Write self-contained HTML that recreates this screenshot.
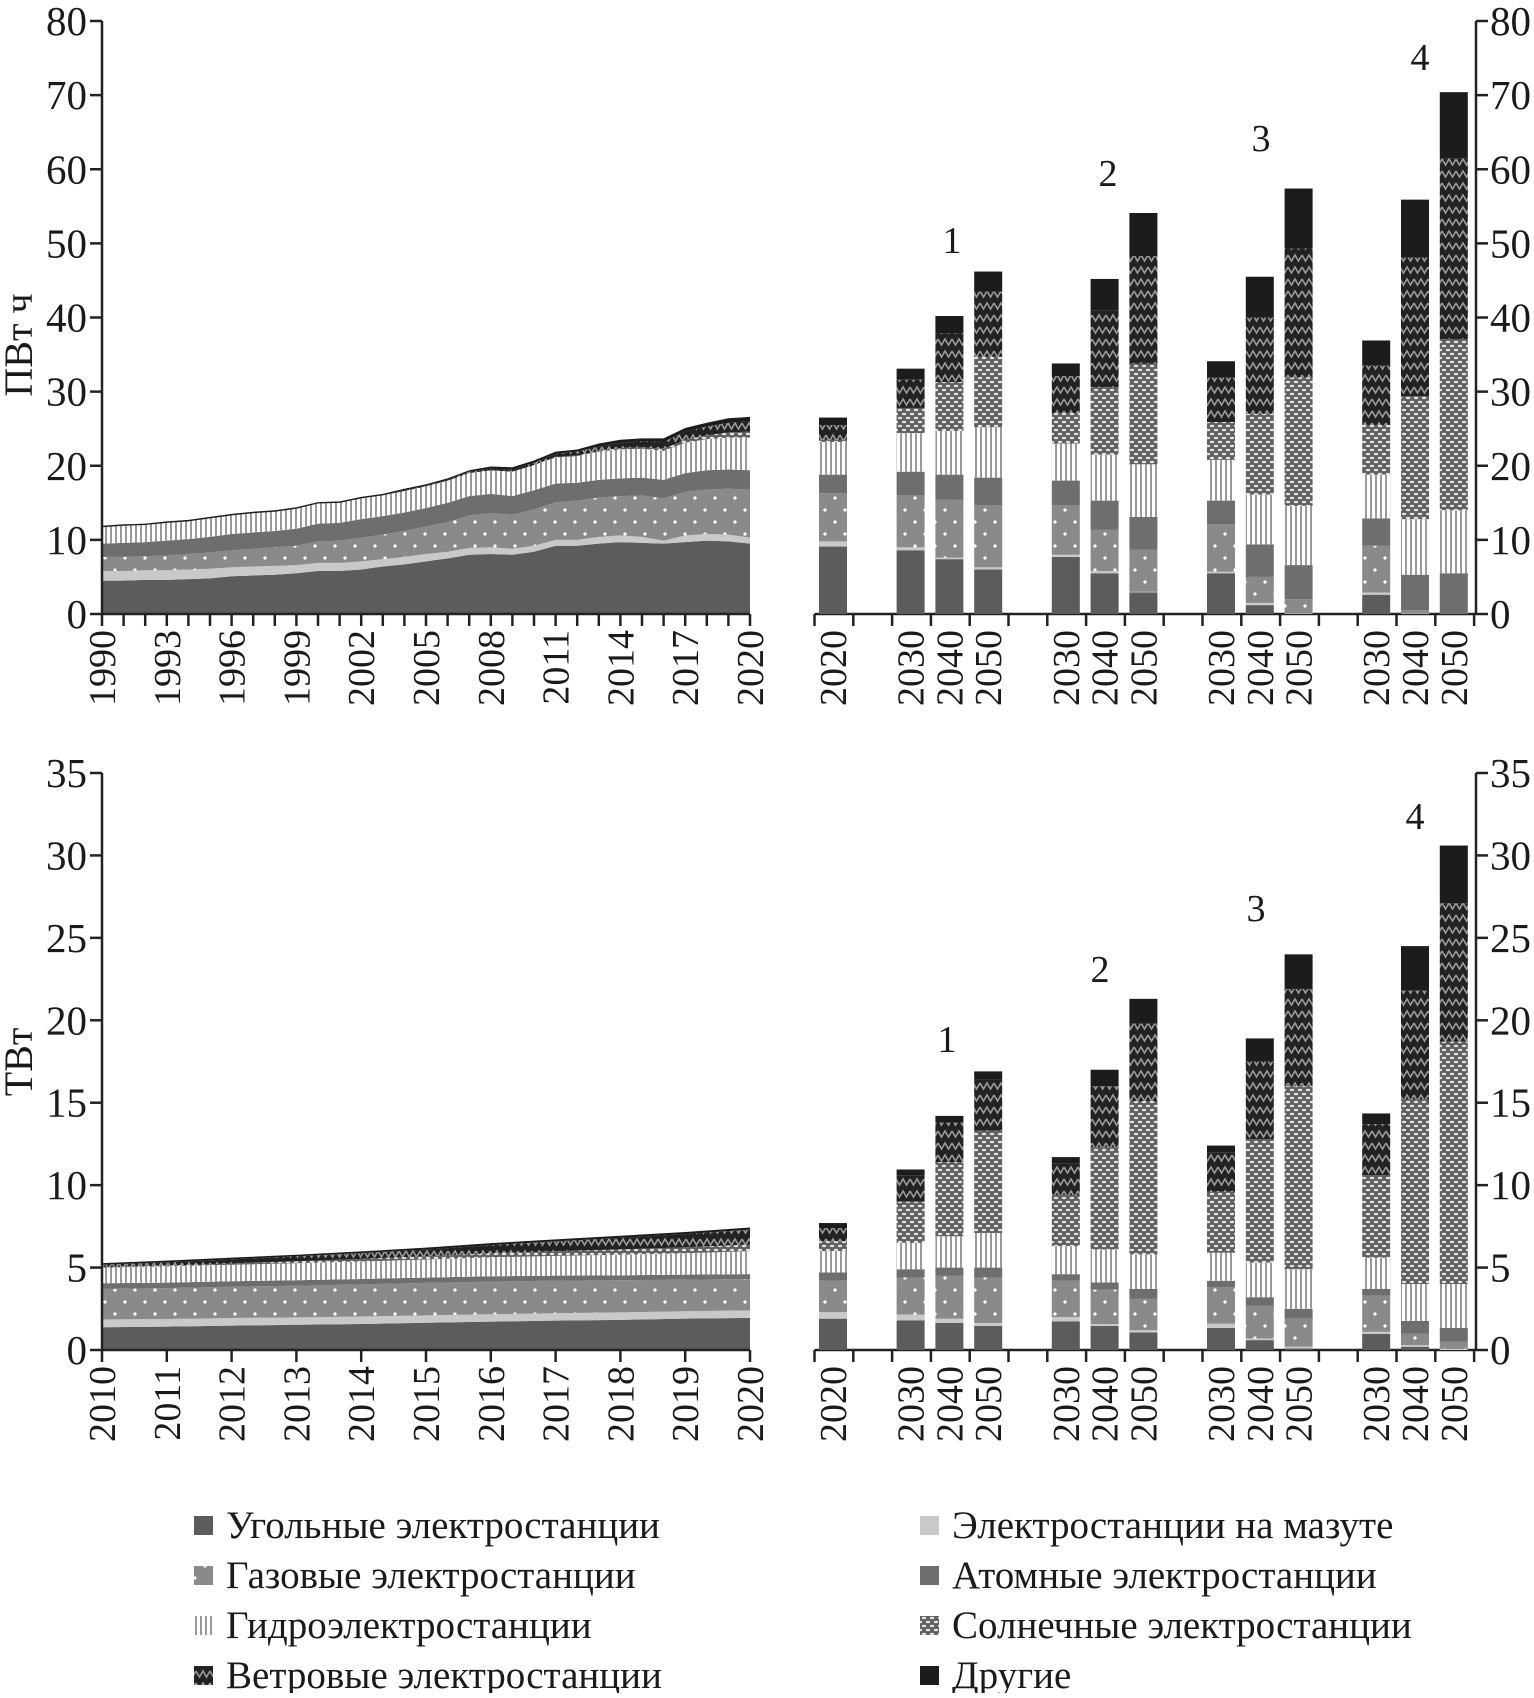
<!DOCTYPE html>
<html><head><meta charset="utf-8">
<style>
body{margin:0;background:#fff;}
svg text{font-family:"Liberation Serif","DejaVu Serif",serif;fill:#1a1a1a;}
</style></head>
<body>
<svg id="chart" width="1534" height="1693" viewBox="0 0 1534 1693" xmlns="http://www.w3.org/2000/svg">
<defs>
<pattern id="pGas" width="20" height="24" patternUnits="userSpaceOnUse"><rect width="20" height="24" fill="#8a8a8a"/><circle cx="5" cy="6" r="1.6" fill="#fff"/><circle cx="15" cy="18" r="1.6" fill="#fff"/></pattern>
<pattern id="pHydro" width="5" height="10" patternUnits="userSpaceOnUse"><rect width="5" height="10" fill="#fff"/><rect x="0" width="2" height="10" fill="#9a9a9a"/></pattern>
<pattern id="pSolar" width="8" height="8" patternUnits="userSpaceOnUse"><rect width="8" height="8" fill="#5e5e5e"/><ellipse cx="4" cy="2" rx="2.3" ry="1.2" fill="#e0e0e0"/><ellipse cx="0" cy="6" rx="2.3" ry="1.2" fill="#e0e0e0"/><ellipse cx="8" cy="6" rx="2.3" ry="1.2" fill="#e0e0e0"/></pattern>
<pattern id="pWind" width="14" height="12" patternUnits="userSpaceOnUse"><rect width="14" height="12" fill="#222"/><path d="M0 3 L3.5 9 L7 3 L10.5 9 L14 3" stroke="#9a9a9a" stroke-width="1.6" fill="none"/></pattern>
</defs>
<g id="top"></g><g id="bottom"></g><g id="legend"></g>
</svg>
<script>
const NS="http://www.w3.org/2000/svg";
const svg=document.getElementById('chart');
const sources=["coal","oil","gas","nuclear","hydro","solar","wind","other"];
const fills=["#5c5c5c","#c9c9c9","url(#pGas)","#6e6e6e","url(#pHydro)","url(#pSolar)","url(#pWind)","#1c1c1c"];
// ---- Top chart: historical generation (PWh), 1990..2020
const topYears=[1990,1991,1992,1993,1994,1995,1996,1997,1998,1999,2000,2001,2002,2003,2004,2005,2006,2007,2008,2009,2010,2011,2012,2013,2014,2015,2016,2017,2018,2019,2020];
const topCoal=[4.5,4.5,4.6,4.6,4.7,4.8,5.1,5.2,5.3,5.5,5.8,5.8,6.0,6.4,6.7,7.1,7.5,8.0,8.1,8.0,8.4,9.2,9.2,9.5,9.7,9.6,9.5,9.7,9.9,9.8,9.5];
const topOil=[1.3,1.3,1.3,1.3,1.3,1.3,1.2,1.2,1.2,1.1,1.1,1.1,1.1,1.0,1.0,1.0,0.9,0.9,0.9,0.8,0.8,0.8,0.8,0.9,0.9,0.8,0.4,0.9,0.9,0.9,0.8];
const topGas=[1.9,1.9,1.9,2.0,2.1,2.2,2.3,2.4,2.5,2.6,2.9,3.0,3.2,3.3,3.5,3.7,4.0,4.4,4.6,4.6,4.9,5.1,5.3,5.3,5.3,5.6,5.7,5.9,6.0,6.2,6.5];
const topNuclear=[1.8,1.9,1.9,2.0,2.0,2.1,2.2,2.2,2.2,2.3,2.4,2.4,2.5,2.5,2.5,2.5,2.6,2.6,2.6,2.5,2.6,2.5,2.4,2.4,2.4,2.4,2.5,2.5,2.6,2.6,2.6];
const topHydro=[2.2,2.3,2.3,2.4,2.4,2.5,2.5,2.6,2.6,2.7,2.7,2.7,2.8,2.8,2.9,2.9,3.0,3.1,3.2,3.3,3.4,3.5,3.6,3.8,3.9,3.9,3.9,4.1,4.2,4.3,4.4];
const topSolar=[0,0,0,0,0,0,0,0,0,0,0,0,0,0,0,0,0,0,0,0,0,0.1,0.1,0.1,0.2,0.2,0.3,0.4,0.5,0.7,0.8];
const topWind=[0,0,0,0,0,0,0,0,0,0,0,0,0,0,0.1,0.1,0.1,0.2,0.2,0.3,0.3,0.4,0.5,0.6,0.7,0.8,0.9,1.1,1.2,1.3,1.4];
const topOther=[0.2,0.2,0.2,0.2,0.2,0.2,0.2,0.2,0.2,0.2,0.2,0.2,0.2,0.2,0.2,0.2,0.2,0.2,0.3,0.3,0.3,0.3,0.3,0.4,0.4,0.4,0.5,0.5,0.5,0.6,0.6];
const topTicks=[0,10,20,30,40,50,60,70,80];
// bars: 2020 + 4 scenarios x (2030,2040,2050)
const barLabels=["2020","2030","2040","2050","2030","2040","2050","2030","2040","2050","2030","2040","2050"];
const barSlots=[0,2,3,4,6,7,8,10,11,12,14,15,16];
const topBarCoal=[9.1,8.6,7.4,6.0,7.7,5.5,2.9,5.5,1.2,0,2.6,0,0];
const topBarOil=[0.7,0.4,0.2,0.3,0.3,0.3,0.1,0.2,0.3,0.1,0.3,0.1,0];
const topBarGas=[6.5,7.0,7.8,8.4,6.7,5.6,5.7,6.4,3.5,1.9,6.3,0.4,0.1];
const topBarNuclear=[2.5,3.2,3.4,3.7,3.3,3.9,4.4,3.2,4.4,4.6,3.7,4.8,5.4];
const topBarHydro=[4.4,5.2,5.9,6.8,5.0,6.2,7.1,5.5,6.7,8.0,5.9,7.5,8.5];
const topBarSolar=[0.3,3.4,6.6,9.5,4.1,9.1,13.6,5.1,10.9,17.3,6.7,16.6,23.1];
const topBarWind=[2.0,3.8,6.6,8.8,5.0,10.4,14.5,6.0,13.0,17.4,8.0,18.7,24.4];
const topBarOther=[1.0,1.5,2.3,2.7,1.7,4.2,5.8,2.2,5.5,8.1,3.4,7.8,8.9];
// ---- Bottom chart: capacity (TW), 2010..2020
const botYears=[2010,2011,2012,2013,2014,2015,2016,2017,2018,2019,2020];
const botCoal=[1.38,1.42,1.48,1.53,1.58,1.65,1.72,1.78,1.83,1.9,1.95];
const botOil=[0.47,0.46,0.46,0.45,0.45,0.45,0.45,0.45,0.45,0.45,0.45];
const botGas=[1.85,1.87,1.9,1.92,1.95,1.97,1.98,1.98,1.95,1.92,1.9];
const botNuclear=[0.35,0.34,0.33,0.33,0.33,0.32,0.32,0.3,0.3,0.3,0.3];
const botHydro=[0.95,0.98,1.0,1.03,1.06,1.1,1.15,1.2,1.25,1.3,1.4];
const botSolar=[0.02,0.05,0.08,0.12,0.16,0.2,0.24,0.28,0.32,0.36,0.4];
const botWind=[0.15,0.2,0.25,0.3,0.35,0.4,0.5,0.6,0.7,0.8,0.9];
const botOther=[0.1,0.1,0.1,0.1,0.1,0.12,0.12,0.12,0.13,0.13,0.13];
const botTicks=[0,5,10,15,20,25,30,35];
const botBarCoal=[1.9,1.8,1.64,1.46,1.74,1.46,1.06,1.34,0.6,0.1,0.97,0.2,0];
const botBarOil=[0.4,0.35,0.26,0.18,0.26,0.11,0.14,0.26,0.1,0.1,0.13,0.1,0.07];
const botBarGas=[1.9,2.25,2.6,2.76,2.2,2.09,1.9,2.2,2.0,1.7,2.2,0.7,0.43];
const botBarNuclear=[0.5,0.5,0.5,0.6,0.4,0.44,0.6,0.4,0.5,0.6,0.4,0.76,0.84];
const botBarHydro=[1.3,1.6,1.9,2.1,1.7,2.0,2.1,1.7,2.1,2.4,1.9,2.24,2.66];
const botBarSolar=[0.6,2.5,4.5,6.2,3.1,6.2,9.3,3.7,7.5,11.1,5.0,11.2,14.7];
const botBarWind=[0.8,1.6,2.4,3.1,1.9,3.7,4.7,2.4,4.7,5.9,3.1,6.6,8.4];
const botBarOther=[0.3,0.35,0.4,0.5,0.4,1.0,1.5,0.4,1.4,2.1,0.65,2.7,3.5];

function el(tag,attrs,parent,txt){const e=document.createElementNS(NS,tag);for(const k in attrs)e.setAttribute(k,attrs[k]);if(txt!==undefined)e.textContent=txt;parent.appendChild(e);return e;}

function panel(g,cfg){
  const y=v=>cfg.y0-(v/cfg.max)*(cfg.y0-cfg.yTop);
  const xL0=102,xL1=750;
  const xA=i=>xL0+i*(xL1-xL0)/(cfg.years.length-1);
  let base=cfg.years.map(()=>0);
  cfg.series.forEach((s,k)=>{
    const top=base.map((b,i)=>b+s[i]);
    let pts=top.map((v,i)=>xA(i)+","+y(v));
    for(let i=base.length-1;i>=0;i--)pts.push(xA(i)+","+y(base[i]));
    const p=el('polygon',{points:pts.join(' '),fill:fills[k]},g);
    
    
    base=top;
  });
  const ax=el('path',{d:`M${xL0} ${cfg.yTop}V${cfg.y0}H${xL1}`,stroke:'#222','stroke-width':2.5,fill:'none'},g);
  
  cfg.ticks.forEach(t=>{
    el('line',{x1:xL0-12,x2:xL0,y1:y(t),y2:y(t),stroke:'#222','stroke-width':2.5},g);
    const tx=el('text',{x:xL0-15,y:y(t)+14,'text-anchor':'end','font-size':41},g,String(t));
    
  });
  cfg.years.forEach((yr,i)=>{
    el('line',{x1:xA(i),x2:xA(i),y1:cfg.y0,y2:cfg.y0+12,stroke:'#222','stroke-width':2.5},g);
    if(i%cfg.labelEvery===0){
      const tx=el('text',{x:0,y:0,'text-anchor':'end','font-size':38,transform:`translate(${xA(i)+13},${cfg.y0+16}) rotate(-90)`},g,String(yr));
      
    }
  });
  const s0=814.5,sw=38.8,xR=1476;
  el('line',{x1:s0,x2:xR,y1:cfg.y0,y2:cfg.y0,stroke:'#222','stroke-width':2.5},g);
  for(let i=0;i<=17;i++)el('line',{x1:s0+i*sw,x2:s0+i*sw,y1:cfg.y0,y2:cfg.y0+12,stroke:'#222','stroke-width':2.5},g);
  const ra=el('line',{x1:xR,x2:xR,y1:cfg.yTop,y2:cfg.y0,stroke:'#222','stroke-width':2.5},g);
  
  cfg.ticks.forEach(t=>{
    el('line',{x1:xR,x2:xR+12,y1:y(t),y2:y(t),stroke:'#222','stroke-width':2.5},g);
    const tx=el('text',{x:xR+14,y:y(t)+14,'font-size':41},g,String(t));
    
  });
  barLabels.forEach((lab,b)=>{
    const bx=s0+barSlots[b]*sw+4.5;
    let acc=0;
    cfg.bars.forEach((s,k)=>{
      const v=s[b];
      if(v>0){
        const r=el('rect',{x:bx,y:y(acc+v),width:28,height:y(acc)-y(acc+v),fill:fills[k]},g);
        
        
      }
      acc+=v;
    });
    const tx=el('text',{x:0,y:0,'text-anchor':'end','font-size':38,transform:`translate(${bx+27},${cfg.y0+16}) rotate(-90)`},g,lab);
    
  });
  cfg.groupLabels.forEach((p,i)=>{
    const tx=el('text',{x:p[0],y:p[1],'text-anchor':'middle','font-size':38},g,String(i+1));
    
  });
  const t=el('text',{x:0,y:0,'text-anchor':'middle','font-size':40,transform:`translate(32,${cfg.titleY}) rotate(-90)`},g,cfg.title);
  
}
panel(document.getElementById('top'),{y0:614,yTop:21,max:80,ticks:topTicks,years:topYears,labelEvery:3,
  series:[topCoal,topOil,topGas,topNuclear,topHydro,topSolar,topWind,topOther],
  bars:[topBarCoal,topBarOil,topBarGas,topBarNuclear,topBarHydro,topBarSolar,topBarWind,topBarOther],
  groupLabels:[[952,253],[1108,186],[1261,151],[1420,70]],title:"ПВт ч",titleY:345});
panel(document.getElementById('bottom'),{y0:1350,yTop:773,max:35,ticks:botTicks,years:botYears,labelEvery:1,
  series:[botCoal,botOil,botGas,botNuclear,botHydro,botSolar,botWind,botOther],
  bars:[botBarCoal,botBarOil,botBarGas,botBarNuclear,botBarHydro,botBarSolar,botBarWind,botBarOther],
  groupLabels:[[947,1052],[1100,982],[1256,921],[1415,829]],title:"ТВт",titleY:1062});
const legNames=["Угольные электростанции","Электростанции на мазуте","Газовые электростанции","Атомные электростанции","Гидроэлектростанции","Солнечные электростанции","Ветровые электростанции","Другие"];
const legIdx=[0,1,2,3,4,5,6,7];
const lg=document.getElementById('legend');
legIdx.forEach((k,i)=>{
  const col=i%2,row=Math.floor(i/2);
  const x=col?920:194, yy=1526+row*50;
  const r=el('rect',{x:x,y:yy-10,width:19,height:19,fill:fills[k]},lg);
  
  const tx=el('text',{x:x+32,y:yy+12,'font-size':39},lg,legNames[i]);
  
});
</script>
</body></html>
